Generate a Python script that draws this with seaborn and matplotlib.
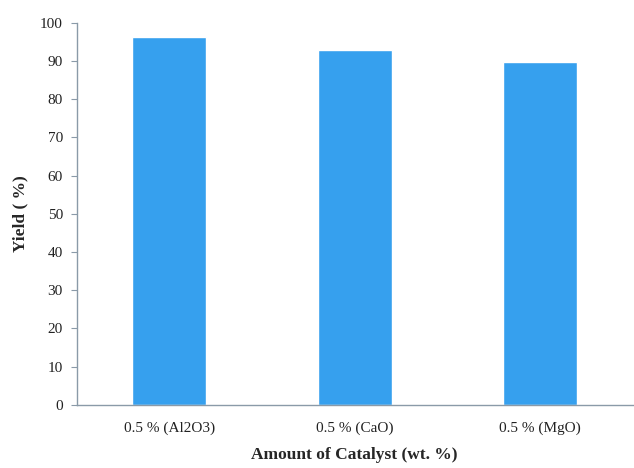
import pandas as pd
import matplotlib
matplotlib.use("Agg")
import matplotlib.pyplot as plt
import seaborn as sns

catalysts = ["0.5 % (Al2O3)", "0.5 % (CaO)", "0.5 % (MgO)"]
yields = [96.2, 92.9, 89.9]

sns.set_style("white")
plt.rcParams['font.family'] = ['Liberation Serif', 'DejaVu Serif']

df = pd.DataFrame({"catalyst": catalysts, "yield": yields})

fig = plt.figure(figsize=(6.34, 4.68), dpi=100)
ax = fig.add_axes([0.121, 0.135, 0.877, 0.816])
sns.barplot(data=df, x="catalyst", y="yield", color="#36a0ee", saturation=1,
            width=0.4, ax=ax)

ax.set_ylim(0, 100)
ax.set_yticks(range(0, 101, 10))
ax.set_xlim(-0.5, 2.5)
ax.set_xlabel("Amount of Catalyst (wt. %)", fontsize=12.5, fontweight="bold", labelpad=9)
ax.set_ylabel("Yield ( %)", fontsize=12.5, fontweight="bold", labelpad=8)
ax.tick_params(axis="both", labelsize=11, colors="#222222")
ax.tick_params(axis="y", direction="out", length=4, color="#8a9aa8", left=True, pad=6)
ax.tick_params(axis="x", length=0, pad=12)
sns.despine(ax=ax)
for s in ["left", "bottom"]:
    ax.spines[s].set_color("#8a9aa8")
    ax.spines[s].set_linewidth(1)

fig.savefig("out.png", dpi=100)
